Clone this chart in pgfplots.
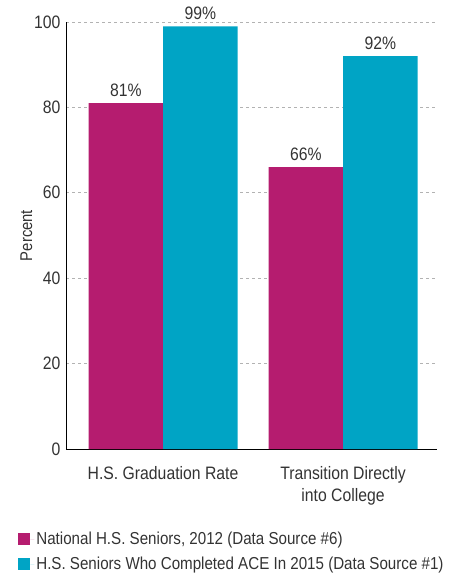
\documentclass[border=0pt]{standalone}
\usepackage{pgfplots}
\pgfplotsset{compat=1.18}
\usepackage{fontspec}
\setmainfont{Liberation Sans}[FakeStretch=0.875]
\definecolor{mag}{HTML}{B51C6F}
\definecolor{cyn}{HTML}{00A4C5}
\definecolor{txt}{HTML}{333333}
\begin{document}
\begin{tikzpicture}
\path[use as bounding box] (-66pt,-128pt) rectangle (389pt,449pt);
\begin{axis}[
  at={(0pt,0pt)}, anchor=south west,
  scale only axis, width=371pt, height=427pt,
  /pgf/number format/assume math mode=true,
  ybar=0pt, bar width=74.5pt,
  xmin=-0.539, xmax=1.522, ymin=0, ymax=100,
  xtick={0,1}, xticklabels={H.S. Graduation Rate, Transition Directly\\into College},
  xticklabel style={align=center, font=\fontsize{18}{22}\selectfont, text=txt, yshift=-14pt},
  ytick={0,20,40,60,80,100},
  yticklabel style={font=\fontsize{18}{20}\selectfont, text=txt, xshift=-2pt},
  major tick length=0pt,
  axis x line*=bottom, axis y line*=left,
  axis line style={-, black, line width=1pt},
  ymajorgrids, grid style={dashed, gray!60, line width=0.8pt},
  ylabel={Percent}, ylabel style={font=\fontsize{17}{20}\selectfont, text=txt, yshift=-5pt},
  nodes near coords={\pgfmathprintnumber{\pgfplotspointmeta}\%},
  nodes near coords style={font=\fontsize{18}{20}\selectfont, text=txt, yshift=3pt},
  legend style={at={(axis description cs:-0.129,-0.19)}, anchor=north west, draw=none, fill=none,
    font=\fontsize{17.3}{20}\selectfont, text=txt, row sep=7pt, inner sep=0pt},
  legend cell align=left,
  legend image code/.code={\fill[#1] (0pt,-6pt) rectangle (12pt,6pt); \path (12pt,0pt) -- (16pt,0pt);},
]
\addplot[fill=mag, draw=none] coordinates {(0,81) (1,66)};
\addplot[fill=cyn, draw=none] coordinates {(0,99) (1,92)};
\legend{{National H.S. Seniors, 2012 (Data Source \#6)}, {H.S. Seniors Who Completed ACE In 2015 (Data Source \#1)}}
\end{axis}
\end{tikzpicture}
\end{document}
